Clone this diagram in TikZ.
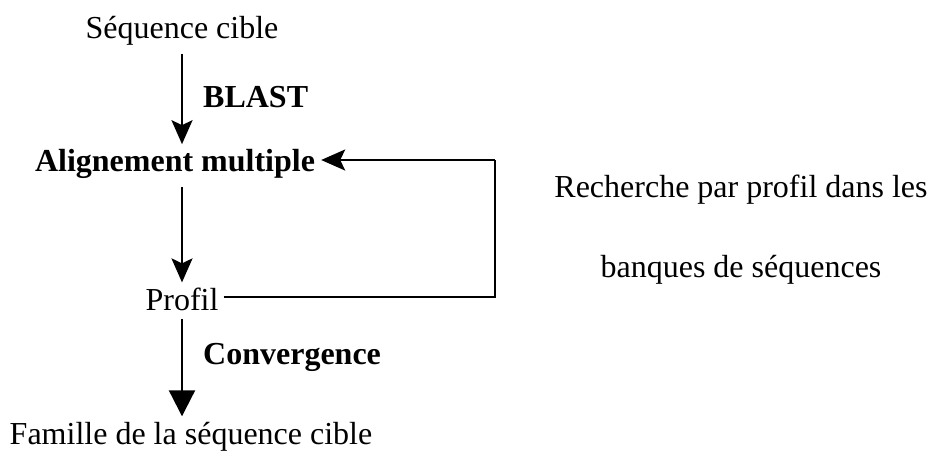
\documentclass[tikz,border=0pt]{standalone}
\usepackage{fontspec}
\setmainfont{Liberation Serif}
\usetikzlibrary{arrows.meta}
\begin{document}
\begin{tikzpicture}[x=1pt,y=-1pt,
  lbl/.style={font=\fontsize{32}{36}\selectfont, inner sep=0pt},
  blbl/.style={lbl, font=\fontsize{32}{36}\selectfont\bfseries},
  conn/.style={line width=2.2pt},
  arr/.style={conn, -{Stealth[length=24pt,width=21pt,inset=5pt]}},
  arrbig/.style={conn, -{Triangle[length=26pt,width=26pt]}}]
\useasboundingbox (0,0) rectangle (941,459);
\node[lbl] (seq) at (182,31) {Séquence cible};
\node[blbl] (ali) at (175,164) {Alignement multiple};
\node[lbl] (prof) at (182,299) {Profil};
\node[lbl] (fam) at (191,437) {Famille de la séquence cible};
\node[blbl, anchor=west] (blast) at (203,97) {BLAST};
\node[blbl, anchor=west] (conv) at (203,357) {Convergence};
\node[lbl] (rech1) at (741,190) {Recherche par profil dans les};
\node[lbl] (rech2) at (741,270) {banques de séquences};
\coordinate (c1) at (495,160);
\coordinate (c2) at (495,297);
\draw[arr] ([yshift=-8pt]seq.south -| prof.center) -- ([yshift=5pt]ali.north -| prof.center);
\draw[arr] ([yshift=-8pt]ali.south -| prof.center) -- ([yshift=5pt]prof.north);
\draw[arrbig] ([yshift=-8pt]prof.south) -- ([yshift=6pt]fam.north -| prof.center);
\draw[conn] ([xshift=5pt]prof.east |- c2) -- (c2) -- (c1);
\draw[arr] (c1) -- ([xshift=6pt]ali.east |- c1);
\end{tikzpicture}
\end{document}
